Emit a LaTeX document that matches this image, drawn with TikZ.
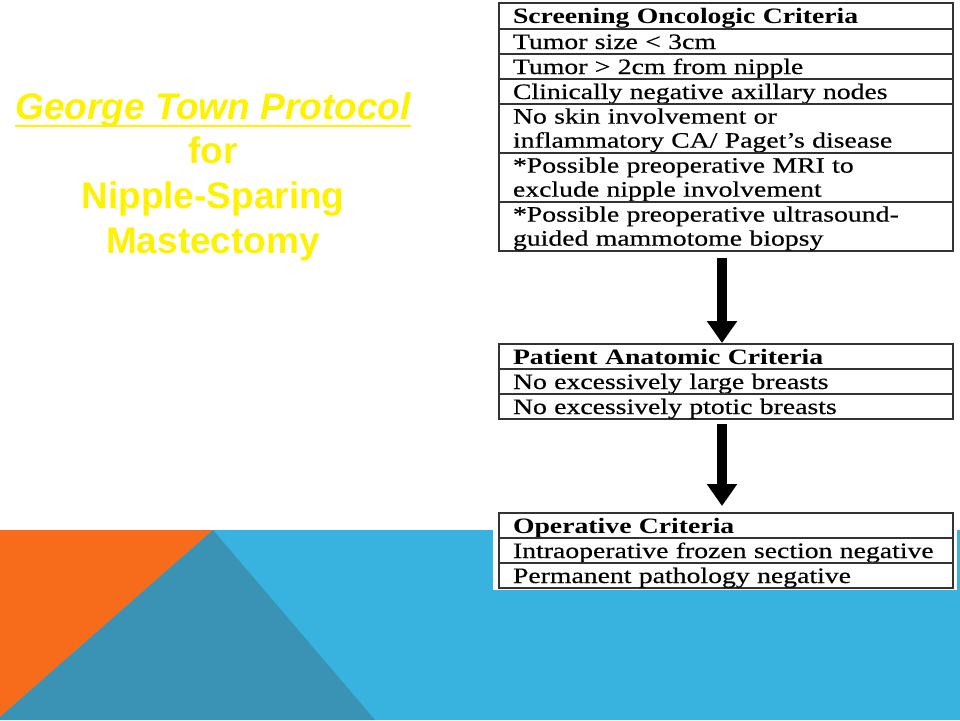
\documentclass[tikz,border=0pt]{standalone}
\usepackage{fontspec}
\usetikzlibrary{positioning}
\usetikzlibrary{arrows.meta}

\newfontfamily\titlefont{Liberation Sans}
\newfontfamily\tabfont[FakeStretch=1.26, UprightFeatures={FakeBold=0.4}]{Liberation Serif}
\definecolor{slideorange}{HTML}{F76C1B}
\definecolor{slideteal}{HTML}{3A93B4}
\definecolor{slideblue}{HTML}{38B2DF}
% thick underline for the title
\newcommand{\titleul}[1]{\setbox0\hbox{#1}\rlap{\box0}\setbox0\hbox{#1}\rule[-8.3pt]{\wd0}{2.6pt}}

\tikzset{
critbase/.style={draw=black!80, line width=1.3pt, outer sep=0pt, text width=426pt, inner xsep=14pt, inner ysep=0pt, align=left, font=\tabfont\fontsize{22}{24}\selectfont},
crit/.style={critbase, minimum height=25pt, text height=18pt, text depth=3pt},
crithead/.style={crit, font=\tabfont\fontsize{22}{24}\selectfont\bfseries},
crittwo/.style={critbase, minimum height=49pt, execute at begin node={\rule{0pt}{19pt}}},
bigarrow/.style={line width=10pt, -{Triangle[length=22pt, width=29pt]}},
}

\begin{document}
\begin{tikzpicture}[x=1pt, y=-1pt]
\useasboundingbox (0,0) rectangle (960,720);
% band at the bottom
\fill[slideblue] (0,530) rectangle (960,720);
\fill[slideorange] (0,530) -- (213,530) -- (0,717) -- cycle;
\fill[slideteal] (213,530) -- (375,720) -- (0,720) -- (0,717) -- cycle;
% white sheet behind the criteria
\fill[white] (493,0) rectangle (957,590);

\node[font=\titlefont\bfseries\fontsize{37}{44.7}\selectfont, text=yellow, align=center, inner sep=0pt, anchor=north] (title) at (213,92)
{\titleul{\itshape George Town Protocol}\\for\\Nipple-Sparing\\Mastectomy};

% screening criteria
\node[crithead, anchor=north west, minimum height=26pt] (s0) at (499,3) {Screening Oncologic Criteria};
\node[crit, below=0pt of s0] (s1) {Tumor size < 3cm};
\node[crit, below=0pt of s1] (s2) {Tumor > 2cm from nipple};
\node[crit, below=0pt of s2] (s3) {Clinically negative axillary nodes};
\node[crittwo, below=0pt of s3] (s4) {No skin involvement or\\inflammatory CA/ Paget’s disease};
\node[crittwo, below=0pt of s4] (s5) {*Possible preoperative MRI to\\exclude nipple involvement};
\node[crittwo, below=0pt of s5] (s6) {*Possible preoperative ultrasound-\\guided mammotome biopsy};

% anatomic criteria
\node[crithead, below=93pt of s6] (p0) {Patient Anatomic Criteria};
\node[crit, below=0pt of p0] (p1) {No excessively large breasts};
\node[crit, below=0pt of p1] (p2) {No excessively ptotic breasts};

% operative criteria
\node[crithead, below=94pt of p2] (o0) {Operative Criteria};
\node[crit, below=0pt of o0] (o1) {Intraoperative frozen section negative};
\node[crit, below=0pt of o1] (o2) {Permanent pathology negative};

\draw[bigarrow, shorten <=7pt, shorten >=1pt] ([xshift=-4pt]s6.south) -- ([xshift=-4pt]p0.north);
\draw[bigarrow, shorten <=5pt, shorten >=7pt] ([xshift=-4pt]p2.south) -- ([xshift=-4pt]o0.north);
\end{tikzpicture}
\end{document}
